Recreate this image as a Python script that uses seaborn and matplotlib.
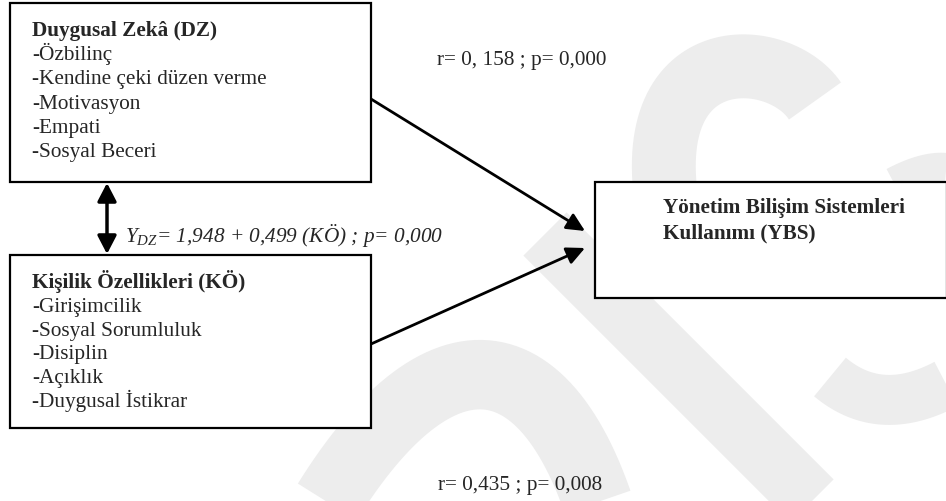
import matplotlib
matplotlib.use("Agg")
from math import comb
import numpy as np
import matplotlib.pyplot as plt
import seaborn as sns
from matplotlib.patches import Rectangle

# diagram content
dz_title = "Duygusal Zekâ (DZ)"
dz_items = ["-Özbilinç", "-Kendine çeki düzen verme", "-Motivasyon", "-Empati", "-Sosyal Beceri"]
ko_title = "Kişilik Özellikleri (KÖ)"
ko_items = ["-Girişimcilik", "-Sosyal Sorumluluk", "-Disiplin", "-Açıklık", "-Duygusal İstikrar"]
ybs_title = ["Yönetim Bilişim Sistemleri", "Kullanımı (YBS)"]
eq_label = r"$Y_{DZ}$= 1,948 + 0,499 (KÖ) ; p= 0,000"
r_dz_label = "r= 0, 158 ; p= 0,000"
r_ko_label = "r= 0,435 ; p= 0,008"

sns.set_theme(style="white")
plt.rcParams["font.family"] = ["Liberation Serif", "DejaVu Serif"]
plt.rcParams["mathtext.fontset"] = "custom"
plt.rcParams["mathtext.it"] = "Liberation Serif:italic"
plt.rcParams["mathtext.rm"] = "Liberation Serif"

fig = plt.figure(figsize=(9.46, 5.02), dpi=100)
ax = fig.add_axes([0, 0, 1, 1])
ax.set_xlim(0, 946)
ax.set_ylim(502, 0)
ax.axis("off")


def draw_wm(ctrl, lw):
    # smooth light-grey stroke (background watermark)
    t = np.linspace(0, 1, 60)
    P = np.asarray(ctrl, dtype=float)
    k = len(P) - 1
    B = sum(comb(k, i) * (t ** i)[:, None] * ((1 - t) ** (k - i))[:, None] * P[i] for i in range(k + 1))
    ax.plot(B[:, 0], B[:, 1], color="#ededed", lw=lw, solid_capstyle="butt", zorder=0)


draw_wm([(545, 235), (812, 502)], 44)
draw_wm([(320, 515), (430, 330), (540, 330), (600, 510)], 50)
draw_wm([(665, 190), (650, 40), (780, 50), (815, 102)], 46)
draw_wm([(830, 378), (880, 420), (946, 385)], 36)
draw_wm([(895, 186), (925, 170), (946, 172)], 26)

fs = 15.3
boxes = [(10, 4, 361, 179), (10, 256, 361, 173), (595, 183, 352, 116)]
for x, y, w, h in boxes:
    ax.add_patch(Rectangle((x, y), w, h, facecolor="white", edgecolor="black", lw=1.6, zorder=3))


def box_text(x, base, step, title, items):
    ax.text(x, base, title, fontsize=fs, fontweight="bold", va="baseline", ha="left", zorder=4)
    for i, t in enumerate(items):
        ax.text(x, base + step * (i + 1), t, fontsize=fs, va="baseline", ha="left", zorder=4)


box_text(32, 36, 24.2, dz_title, dz_items)
box_text(32, 288, 23.8, ko_title, ko_items)
for i, t in enumerate(ybs_title):
    ax.text(663, 213 + 25 * i, t, fontsize=fs, fontweight="bold", va="baseline", ha="left", zorder=4)

head = "-|>,head_length=0.5,head_width=0.24"
arrow_kw = dict(arrowstyle=head, color="black", lw=2.0, mutation_scale=22, shrinkA=0, shrinkB=0)
ax.annotate("", xy=(585, 232), xytext=(371, 100), arrowprops=arrow_kw, zorder=2)
ax.annotate("", xy=(585, 249), xytext=(371, 345), arrowprops=arrow_kw, zorder=2)
ax.annotate("", xy=(107, 255), xytext=(107, 184),
            arrowprops=dict(arrowstyle="<|-|>,head_length=0.5,head_width=0.26", color="black", lw=2.5,
                            mutation_scale=22, shrinkA=0, shrinkB=0),
            zorder=2)

ax.text(125, 242, eq_label, fontsize=fs, style="italic", va="baseline", ha="left")
ax.text(437, 65, r_dz_label, fontsize=fs, va="baseline", ha="left")
ax.text(438, 490, r_ko_label, fontsize=fs, va="baseline", ha="left")

fig.savefig("out.png", dpi=100, facecolor="white")
